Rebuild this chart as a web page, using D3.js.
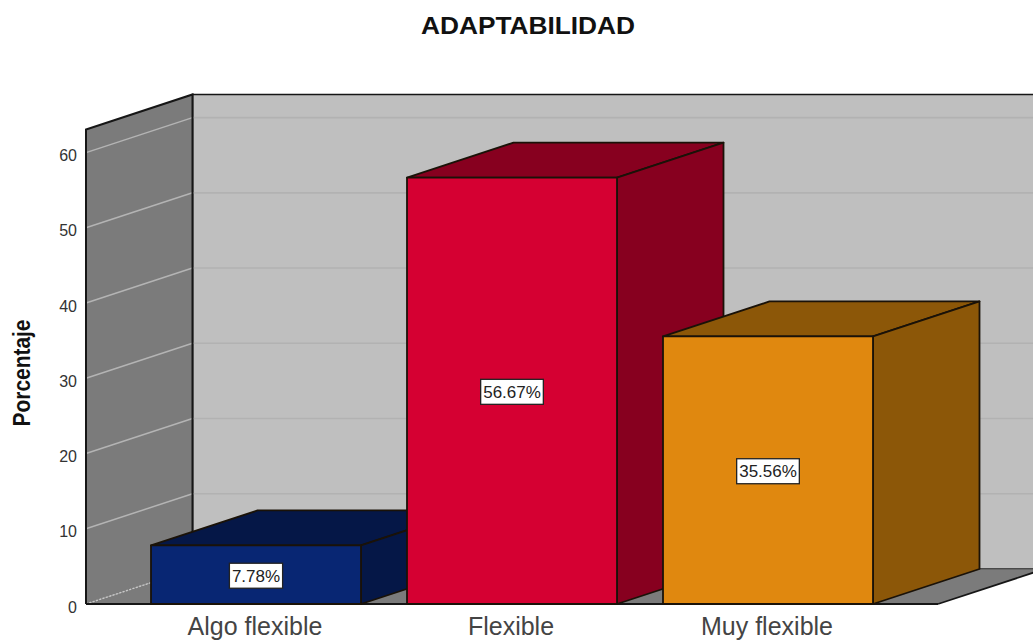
<!DOCTYPE html>
<html><head><meta charset="utf-8">
<script src="https://cdn.jsdelivr.net/npm/d3@7"></script>
<style>html,body{margin:0;padding:0;background:#fff;overflow:hidden}svg{display:block}text{font-family:"Liberation Sans",Arial,sans-serif;fill:#222}</style>
</head><body><div id="c"></div>
<script>
const chartTitle = "ADAPTABILIDAD";
const yTitle = "Porcentaje";
const categories = ["Algo flexible", "Flexible", "Muy flexible"];
const values = [7.78, 56.67, 35.56];
const yTicks = [0, 10, 20, 30, 40, 50, 60];
const frontColors = ["#082673", "#d50032", "#e0880f"];
const topColors = ["#051747", "#87001f", "#8c5708"];

const W = 1033, H = 640;
const svg = d3.select("#c").append("svg").attr("width", W).attr("height", H);
const defs = svg.append("defs");
defs.append("clipPath").attr("id", "page").append("rect").attr("width", W).attr("height", H);

const y = d3.scaleLinear().domain([0, 60]).range([604, 152.6]);
const x = d3.scaleBand().domain(categories).range([86, 938]).paddingInner(46 / 256).paddingOuter(65 / 256);
const dx = 106.5, dy = -35;
const yMax = y.invert(129.5);
const L = 86, R = 938, Y0 = y(0), YT = y(yMax);
const poly = pts => pts.map(p => p.join(",")).join(" ");
const line = "#161616";

const g = svg.append("g").attr("clip-path", "url(#page)");
g.append("polygon").attr("points", poly([[L + dx, YT + dy], [R + dx, YT + dy], [R + dx, Y0 + dy], [L + dx, Y0 + dy]]))
  .attr("fill", "#bfbfbf").attr("stroke", line).attr("stroke-width", 1.6);
g.append("polygon").attr("points", poly([[L, YT], [L + dx, YT + dy], [L + dx, Y0 + dy], [L, Y0]]))
  .attr("fill", "#7b7b7b").attr("stroke", "none");
g.append("polygon").attr("points", poly([[L, Y0], [L + dx, Y0 + dy], [R + dx, Y0 + dy], [R, Y0]]))
  .attr("fill", "#7b7b7b").attr("stroke", "none");
yTicks.filter(t => t > 0).forEach(t => {
  g.append("line").attr("x1", L + dx).attr("x2", R + dx).attr("y1", y(t) + dy).attr("y2", y(t) + dy).attr("stroke", "#b2b2b2").attr("stroke-width", 1.6);
  g.append("line").attr("x1", L).attr("x2", L + dx).attr("y1", y(t)).attr("y2", y(t) + dy).attr("stroke", "#b4b4b4").attr("stroke-width", 1.5);
});
g.append("line").attr("x1", L).attr("x2", L + dx).attr("y1", Y0).attr("y2", Y0 + dy).attr("stroke", "#c8c8c8").attr("stroke-width", 1.4).attr("stroke-dasharray", "2 1.5");
g.append("polyline").attr("points", poly([[L, Y0], [L, YT], [L + dx, YT + dy], [L + dx, Y0 + dy]])).attr("fill", "none").attr("stroke", line).attr("stroke-width", 2);
g.append("line").attr("x1", L).attr("x2", R).attr("y1", Y0).attr("y2", Y0).attr("stroke", line).attr("stroke-width", 1.8);
g.append("line").attr("x1", R).attr("x2", R + dx).attr("y1", Y0).attr("y2", Y0 + dy).attr("stroke", line).attr("stroke-width", 1.8);
g.append("line").attr("x1", L + dx).attr("x2", R + dx).attr("y1", Y0 + dy).attr("y2", Y0 + dy).attr("stroke", "#555").attr("stroke-width", 1);

const bw = x.bandwidth();
const bars = g.selectAll("g.bar").data(categories).join("g").attr("class", "bar");
bars.each(function (c, i) {
  const b = d3.select(this), x0 = x(c), x1 = x0 + bw, yt = y(values[i]);
  const add = (pts, f) => b.append("polygon").attr("points", poly(pts)).attr("fill", f).attr("stroke", "#1a1208").attr("stroke-width", 1.8).attr("stroke-linejoin", "round");
  add([[x0, yt], [x0 + dx, yt + dy], [x1 + dx, yt + dy], [x1, yt]], topColors[i]);
  add([[x1, yt], [x1 + dx, yt + dy], [x1 + dx, Y0 + dy], [x1, Y0]], topColors[i]);
  add([[x0, yt], [x1, yt], [x1, Y0], [x0, Y0]], frontColors[i]);
});
categories.forEach((c, i) => {
  const cx = x(c) + bw / 2, cy = (y(values[i]) + Y0) / 2;
  const lab = g.append("g").attr("transform", `translate(${cx},${cy + 1})`);
  const t = lab.append("text").attr("text-anchor", "middle").attr("dy", "0.36em").attr("font-size", 17).style("fill", "#222").text(values[i].toFixed(2) + "%");
  const w = t.node().getComputedTextLength();
  lab.insert("rect", "text").attr("x", -w / 2 - 2.5).attr("y", -12.5).attr("width", w + 5).attr("height", 25)
    .attr("fill", "#fff").attr("stroke", "#222").attr("stroke-width", 1.3);
});

const yAxis = svg.append("g").attr("transform", `translate(${L},3)`).call(d3.axisLeft(y).tickValues(yTicks).tickSize(0).tickPadding(9));
yAxis.select(".domain").remove();
yAxis.selectAll("text").attr("font-size", 16).attr("font-family", '"Liberation Sans",Arial,sans-serif').style("fill", "#333");
const xAxis = svg.append("g").attr("transform", `translate(-1,${Y0})`).call(d3.axisBottom(x).tickSize(0).tickPadding(13));
xAxis.select(".domain").remove();
xAxis.selectAll("text").attr("font-size", 25).attr("font-family", '"Liberation Sans",Arial,sans-serif').style("fill", "#444");

svg.append("text").attr("x", 528).attr("y", 34).attr("text-anchor", "middle").attr("font-size", 24).attr("font-weight", "bold").attr("textLength", 214).attr("lengthAdjust", "spacingAndGlyphs").style("fill", "#111").text(chartTitle);
svg.append("text").attr("transform", "translate(30,373) rotate(-90)").attr("text-anchor", "middle").attr("font-size", 24).attr("font-weight", "bold").attr("textLength", 107).attr("lengthAdjust", "spacingAndGlyphs").style("fill", "#111").text(yTitle);
</script></body></html>
